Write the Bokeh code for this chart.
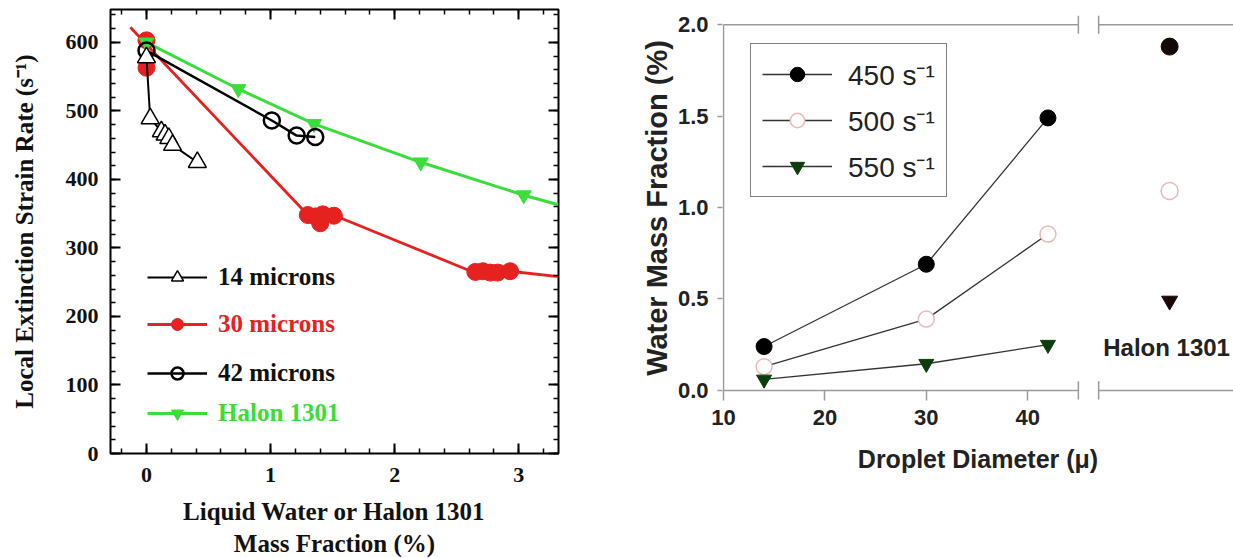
from bokeh.plotting import figure
from bokeh.layouts import row
from bokeh.models import (Legend, LegendItem, Label, FixedTicker, SingleIntervalTicker,
                          LinearAxis, Range1d, NumeralTickFormatter, CustomLabelingPolicy)
from bokeh.embed import file_html
from bokeh.resources import INLINE

# ---------------- data: left panel ----------------
d14_x = [0.0, 0.03, 0.12, 0.15, 0.18, 0.21, 0.41]
d14_y = [578, 489, 470, 465, 460, 450, 425]

d30_line_x = [-0.13, 0.0, 1.30, 1.52, 2.63, 2.93, 3.32]
d30_line_y = [622, 597, 348, 347, 265, 266, 258]
d30_x = [0.0, 0.0, 1.30, 1.36, 1.42, 1.40, 1.51, 2.65, 2.71, 2.77, 2.83, 2.93]
d30_y = [603, 563, 348, 346, 349, 336, 347, 265, 266, 264, 264, 266]

d42_x = [0.0, 1.01, 1.21, 1.36]
d42_y = [588, 486, 464, 462]

halon_line_x = [0.0, 0.74, 1.35, 2.21, 3.04, 3.32]
halon_line_y = [600, 532, 481, 425, 377, 363]
halon_x = [0.0, 0.74, 1.35, 2.21, 3.04]
halon_y = [600, 532, 481, 425, 377]

# ---------------- data: right panel ----------------
diameters = [14, 30, 42]
rate450 = [0.24, 0.69, 1.49]
rate500 = [0.13, 0.39, 0.855]
rate550 = [0.06, 0.146, 0.25]
halon_pos = 54
halon_vals = {"450": 1.88, "500": 1.09, "550": 0.49}
x_ticks_right = [10, 20, 30, 40]
y_ticks_right = [0, 0.5, 1.0, 1.5, 2.0]
break_lo, break_hi = 45, 47
x_start, x_end = 10, 60.3

SERIF = "Liberation Serif"
SANS = "Liberation Sans"
RED = "#e5221f"
GREEN = "#3add3a"

no_labels = CustomLabelingPolicy(code="""
    for (const i of indices) indices.unset(i)
    return indices
""")

# ================= left figure =================
p1 = figure(frame_width=448, frame_height=444, x_range=Range1d(-0.29, 3.32), y_range=Range1d(0, 648),
            output_backend="svg", toolbar_location=None, frame_align=False,
            min_border_left=110, min_border_right=42, min_border_top=9, min_border_bottom=0)
p1.grid.visible = False
p1.outline_line_color = "black"
p1.outline_line_width = 2
p1.outline_line_alpha = 1

xt = SingleIntervalTicker(interval=1, num_minor_ticks=5)
yt = SingleIntervalTicker(interval=100, num_minor_ticks=5)
xb = p1.below[0]
yl = p1.left[0]
xb.ticker = xt
yl.ticker = yt
xa = LinearAxis(ticker=xt, major_label_policy=no_labels, major_label_standoff=0)
yr = LinearAxis(ticker=yt, major_label_policy=no_labels, major_label_standoff=0)
p1.add_layout(xa, "above")
p1.add_layout(yr, "right")
for ax in (xb, yl, xa, yr):
    ax.axis_line_color = None
    ax.major_tick_in = 10
    ax.major_tick_out = 0
    ax.minor_tick_in = 5
    ax.minor_tick_out = 0
    ax.major_tick_line_width = 2
    ax.minor_tick_line_width = 1.5
    ax.major_tick_line_color = "black"
    ax.minor_tick_line_color = "black"
    ax.major_label_text_font = SERIF
    ax.major_label_text_font_style = "bold"
    ax.major_label_text_font_size = "22px"
    ax.major_label_text_color = "#111"
for ax in (xa, yr):
    ax.major_label_text_font_size = "1px"

xb.axis_label = "Liquid Water or Halon 1301\nMass Fraction (%)"
yl.axis_label = "Local Extinction Strain Rate (s\u207b\u00b9)"
for ax in (xb, yl):
    ax.axis_label_text_font = SERIF
    ax.axis_label_text_font_style = "bold"
    ax.axis_label_text_font_size = "25px"
    ax.axis_label_text_color = "#111"
xb.major_label_standoff = 14
xb.axis_label_standoff = 13
yl.major_label_standoff = 12
yl.axis_label_standoff = 25

l30 = p1.line(d30_line_x, d30_line_y, line_color=RED, line_width=2.8)
s30 = p1.scatter(d30_x, d30_y, marker="circle", size=17, fill_color=RED, line_color=RED)
lh = p1.line(halon_line_x, halon_line_y, line_color=GREEN, line_width=3)
sh = p1.scatter(halon_x, halon_y, marker="inverted_triangle", size=15, fill_color=GREEN, line_color=GREEN)
l42 = p1.line(d42_x, d42_y, line_color="black", line_width=2.5)
s42 = p1.scatter(d42_x, d42_y, marker="circle", size=16, fill_color=None, line_color="black", line_width=2.5)
l14 = p1.line(d14_x, d14_y, line_color="black", line_width=2)
s14 = p1.scatter(d14_x, d14_y, marker="triangle", size=18, fill_color="white", line_color="black", line_width=1.5)

left_items = [
    ("14 microns", [l14, s14], "#111", (37, 161)),
    ("30 microns", [l30, s30], RED, (37, 114)),
    ("42 microns", [l42, s42], "#111", (37, 65)),
    ("Halon 1301", [lh, sh], GREEN, (37, 25)),
]
for label, rends, col, loc in left_items:
    lg = Legend(items=[LegendItem(label=label, renderers=rends)], location=loc,
                label_text_color=col, border_line_color=None, background_fill_alpha=0,
                padding=0, margin=0, glyph_width=60, glyph_height=30, label_standoff=11,
                label_text_font=SERIF, label_text_font_style="bold", label_text_font_size="25px")
    p1.add_layout(lg, "center")

# ================= right figure =================
p2 = figure(frame_width=511, frame_height=385, x_range=Range1d(9.9, x_end), y_range=Range1d(-0.055, 2.05),
            output_backend="svg", toolbar_location=None, frame_align=False,
            min_border_left=122, min_border_right=0, min_border_top=15, min_border_bottom=0)
p2.grid.visible = False
p2.outline_line_color = None
AX = "#9a9a9a"
p2.xaxis.ticker = FixedTicker(ticks=x_ticks_right)
p2.yaxis.ticker = FixedTicker(ticks=y_ticks_right)
p2.yaxis.formatter = NumeralTickFormatter(format="0.0")
for ax in p2.axis:
    ax.axis_line_color = None
    ax.minor_tick_line_color = None
    ax.major_tick_line_color = AX
    ax.major_tick_line_width = 1.5
    ax.major_label_text_font = SANS
    ax.major_label_text_font_style = "bold"
    ax.major_label_text_font_size = "22px"
    ax.major_label_text_color = "#222"
    ax.axis_label_text_font = SANS
    ax.axis_label_text_font_style = "bold"
    ax.axis_label_text_color = "#222"
p2.xaxis.major_tick_in = 10
p2.xaxis.major_tick_out = 0
p2.xaxis.major_label_standoff = 9
p2.xaxis.axis_label = "Droplet Diameter (\u03bc)"
p2.xaxis.axis_label_text_font_size = "25px"
p2.xaxis.axis_label_standoff = 17
p2.yaxis.major_tick_in = 0
p2.yaxis.major_tick_out = 5
p2.yaxis.major_label_standoff = 9
p2.yaxis.axis_label = "Water Mass Fraction (%)"
p2.yaxis.axis_label_text_font_size = "29px"
p2.yaxis.axis_label_standoff = 2

# frame lines with axis break
p2.segment(x0=[x_start, break_hi, x_start, break_hi], x1=[break_lo, x_end, break_lo, x_end],
           y0=[0, 0, 2, 2], y1=[0, 0, 2, 2], line_color=AX, line_width=1.5)
p2.segment(x0=[x_start], x1=[x_start], y0=[0], y1=[2], line_color=AX, line_width=1.5)
p2.segment(x0=[break_lo, break_hi, break_lo, break_hi], x1=[break_lo, break_hi, break_lo, break_hi],
           y0=[-0.05, -0.05, 1.95, 1.95], y1=[0.05, 0.05, 2.05, 2.05], line_color=AX, line_width=1.5)

LC = "#333333"
r1l = p2.line(diameters, rate450, line_color=LC, line_width=1.3)
r1s = p2.scatter(diameters, rate450, marker="circle", size=16, fill_color="black", line_color="black")
r2l = p2.line(diameters, rate500, line_color=LC, line_width=1.3)
r2s = p2.scatter(diameters, rate500, marker="circle", size=16, fill_color="white", line_color="#e9b9b9", line_width=1.5)
r3l = p2.line(diameters, rate550, line_color=LC, line_width=1.3)
r3s = p2.scatter(diameters, rate550, marker="inverted_triangle", size=15, fill_color="#0d3d0d", line_color="#0d3d0d")

p2.scatter([halon_pos], [halon_vals["450"]], marker="circle", size=17, fill_color="#150808", line_color="#150808")
p2.scatter([halon_pos], [halon_vals["500"]], marker="circle", size=17, fill_color="white", line_color="#e9b9b9", line_width=1.5)
p2.scatter([halon_pos], [halon_vals["550"]], marker="inverted_triangle", size=16, fill_color="#1a0505", line_color="#1a0505")

p2.add_layout(Label(x=halon_pos - 0.3, y=0.235, text="Halon 1301", text_align="center", text_baseline="middle",
                    text_font=SANS, text_font_style="bold", text_font_size="24px", text_color="#222"))

leg = Legend(items=[LegendItem(label="450 s\u207b\u00b9", renderers=[r1l, r1s]),
                    LegendItem(label="500 s\u207b\u00b9", renderers=[r2l, r2s]),
                    LegendItem(label="550 s\u207b\u00b9", renderers=[r3l, r3s])],
             location=(28, 203), border_line_color="black", border_line_width=1.5,
             background_fill_color="white", background_fill_alpha=1,
             padding=11, spacing=8, margin=0, glyph_width=70, glyph_height=36, label_standoff=16,
             label_text_font=SANS, label_text_font_size="28px", label_text_color="#222")
p2.add_layout(leg, "center")

layout = row(p1, p2)
open("out.html", "w").write(file_html(layout, INLINE))
